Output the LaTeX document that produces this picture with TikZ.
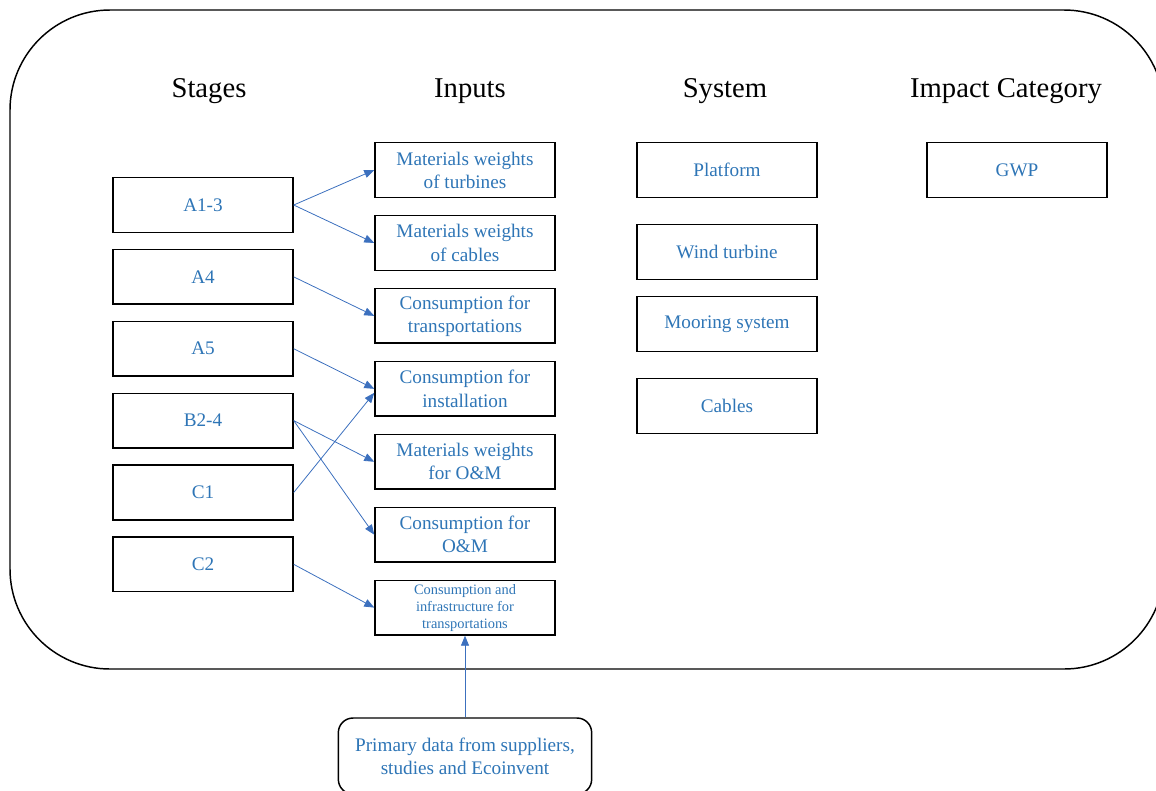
\documentclass[tikz,border=0pt]{standalone}
\usepackage{fontspec}
\setmainfont{Liberation Serif}
\usepackage{tikz}
\usetikzlibrary{positioning,arrows.meta}
\definecolor{dText}{RGB}{46,117,182}
\definecolor{dArrow}{RGB}{60,112,190}
\tikzset{
  head/.style={font=\fontsize{21.5}{24}\selectfont, inner sep=0pt},
  blk/.style={rectangle, draw=black, line width=1.1pt, text=dText,
              minimum width=135pt, minimum height=41pt, align=center,
              inner sep=2pt, font=\fontsize{14.4}{17.3}\selectfont},
  blksmall/.style={blk, font=\fontsize{10.8}{12.8}\selectfont},
  src/.style={blk, rounded corners=11pt, minimum width=190pt, minimum height=57pt},
  flow/.style={-{Triangle[length=7.5pt, width=6pt]}, draw=dArrow, line width=0.6pt},
}

\begin{document}
\begin{tikzpicture}[x=0.75pt, y=-0.75pt, node distance=11.8pt]
  \useasboundingbox (0,0) rectangle (1156,790);

  % --- outer frame ---
  \draw[line width=1.1pt, rounded corners=75pt] (10,10) rectangle (1164,669);

  % --- column headings ---
  \node[head] (hStages) at (209,91) {Stages};
  \node[head] (hInputs) at (470,91) {Inputs};
  \node[head] (hSystem) at (725,91) {System};
  \node[head] (hImpact) at (1006,91) {Impact Category};

  % --- life-cycle stages ---
  \node[blk] (a13) at (203,205) {A1-3};
  \node[blk, below=of a13] (a4) {A4};
  \node[blk, below=of a4] (a5) {A5};
  \node[blk, below=of a5] (b24) {B2-4};
  \node[blk, below=of b24] (c1) {C1};
  \node[blk, below=of c1] (c2) {C2};

  % --- inventory inputs ---
  \begin{scope}[node distance=12.6pt]
    \node[blk] (mTurb) at (465,170) {Materials weights\\of turbines};
    \node[blk, below=of mTurb] (mCab) {Materials weights\\of cables};
    \node[blk, below=of mCab] (cTrans) {Consumption for\\transportations};
    \node[blk, below=of cTrans] (cInst) {Consumption for\\installation};
    \node[blk, below=of cInst] (mOM) {Materials weights\\for O\&M};
    \node[blk, below=of mOM] (cOM) {Consumption for\\O\&M};
    \node[blksmall, below=of cOM] (cInfra) {Consumption and\\infrastructure for\\transportations};
  \end{scope}

  % --- system parts ---
  \node[blk] (platform) at (727,170) {Platform};
  \node[blk] (turbine) at (727,252) {Wind turbine};
  \node[blk] (mooring) at (727,324) {Mooring system};
  \node[blk] (cables) at (727,406) {Cables};

  % --- impact category ---
  \node[blk] (gwp) at (1017,170) {GWP};

  % --- data source ---
  \node[src] (primary) at (465,756) {Primary data from suppliers,\\studies and Ecoinvent};

  % --- stage to input links ---
  \draw[flow] (a13.east) -- (mTurb.west);
  \draw[flow] (a13.east) -- (mCab.west);
  \draw[flow] (a4.east) -- (cTrans.west);
  \draw[flow] (a5.east) -- (cInst.west);
  \draw[flow] (c1.east) -- ([yshift=-3pt]cInst.west);
  \draw[flow] (b24.east) -- (mOM.west);
  \draw[flow] (b24.east) -- (cOM.west);
  \draw[flow] (c2.east) -- (cInfra.west);
  \draw[flow] (primary.north) -- (cInfra.south);
\end{tikzpicture}
\end{document}
